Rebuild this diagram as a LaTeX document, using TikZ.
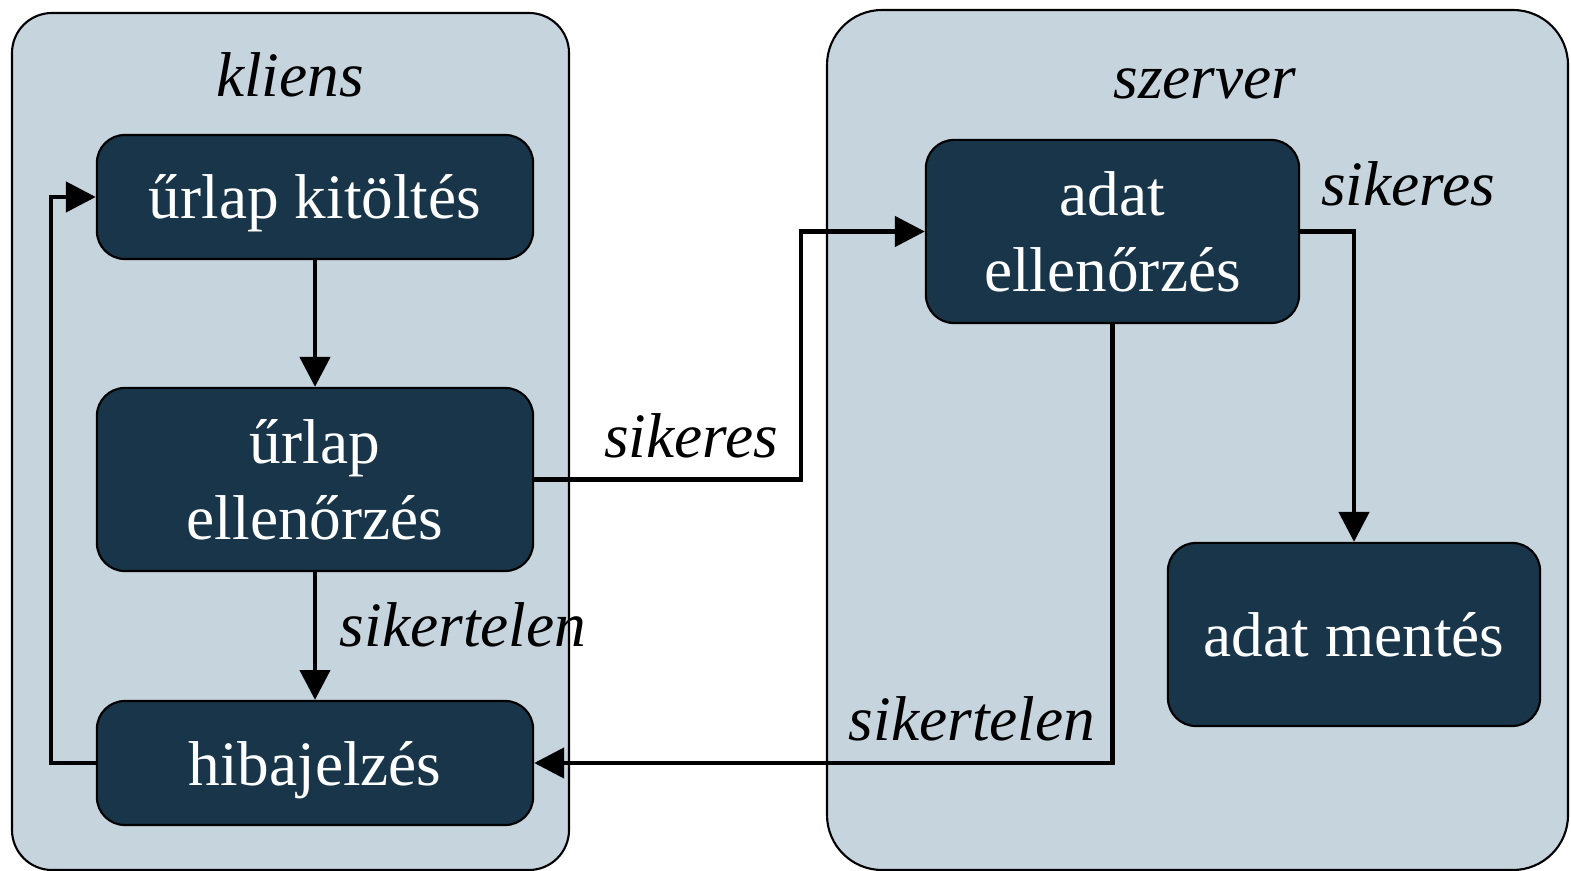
\documentclass[tikz,border=0pt]{standalone}
\usepackage{fontspec}
\setmainfont{Liberation Serif}
\usetikzlibrary{arrows.meta}
\tikzset{>={Triangle[length=8.5pt,width=8.5pt]}}
\definecolor{panelfill}{HTML}{C6D4DD}
\definecolor{stepfill}{HTML}{18354A}

\begin{document}
\begin{tikzpicture}[x=0.01cm, y=-0.01cm,
    panel/.style={draw=black, line width=0.6pt, fill=panelfill, rounded corners=#1},
    panel/.default=0.4cm,
    stepbox/.style={draw=black, line width=0.6pt, fill=stepfill, text=white,
      rounded corners=0.28cm, align=center, inner sep=0pt, text depth=0pt,
      font=\fontsize{18}{21.5}\selectfont},
    branch/.style={font=\fontsize{18}{21.5}\selectfont\itshape, anchor=base, inner sep=0pt},
    conn/.style={->, line width=1.3pt}]
  \useasboundingbox (0,0) rectangle (1571,871);

  % client and server areas
  \draw[panel] (12,13) rectangle (569,870);
  \draw[panel=0.55cm] (827,10) rectangle (1568,870);
  \node[branch] (kliens) at (290,97) {kliens};
  \node[branch] (szerver) at (1205,99) {szerver};

  % steps
  \node[stepbox, minimum width=4.36cm, minimum height=1.24cm] (kitoltes) at (315,197) {űrlap kitöltés};
  \node[stepbox, minimum width=4.36cm, minimum height=1.83cm] (urlapell) at (315,479.5) {űrlap\\ellenőrzés};
  \node[stepbox, minimum width=4.36cm, minimum height=1.24cm] (hiba) at (315,763) {hibajelzés};
  \node[stepbox, minimum width=3.73cm, minimum height=1.83cm] (adatell) at (1112.5,231.5) {adat\\ellenőrzés};
  \node[stepbox, minimum width=3.72cm, minimum height=1.83cm] (mentes) at (1354,634.5) {adat mentés};

  % flow
  \draw[conn] (kitoltes) -- (urlapell);
  \draw[conn] (urlapell) -- (hiba);
  \draw[conn] (hiba.west) -- ++(-45,0) |- (kitoltes.west);
  \draw[conn] (urlapell.east) -- ++(267,0) |- (adatell.west);
  \draw[conn] (adatell.east) -| (mentes.north);
  \draw[conn] (adatell.south) |- (hiba.east);

  % branch labels
  \node[branch] (ok1) at (691,458) {sikeres};
  \node[branch] (fail1) at (463,647) {sikertelen};
  \node[branch] (ok2) at (1408,206) {sikeres};
  \node[branch] (fail2) at (972,741) {sikertelen};
\end{tikzpicture}
\end{document}
